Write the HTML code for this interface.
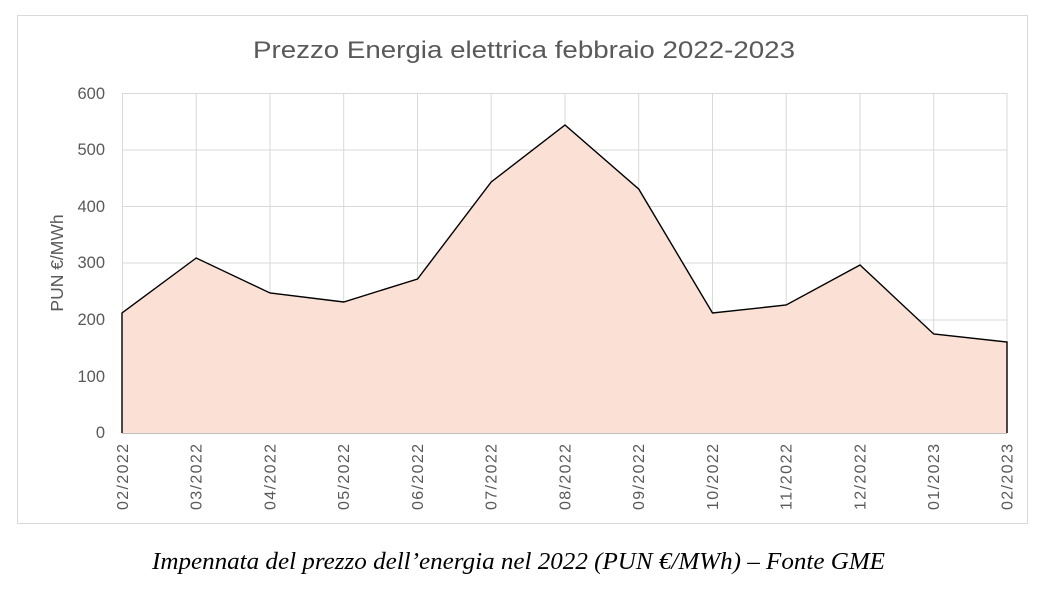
<!DOCTYPE html>
<html><head><meta charset="utf-8"><style>body{margin:0;background:#fff}</style></head>
<body>
<svg width="1038" height="588" xmlns="http://www.w3.org/2000/svg" font-family="Liberation Sans, sans-serif">
<rect x="0" y="0" width="1038" height="588" fill="#fff"/>
<rect x="17.5" y="15.5" width="1010" height="508" fill="#fff" stroke="#d9d9d9"/>
<text x="253" y="58" font-size="24" fill="#595959" textLength="542" lengthAdjust="spacingAndGlyphs">Prezzo Energia elettrica febbraio 2022-2023</text>
<g stroke="#d9d9d9" stroke-width="1">
<line x1="122" y1="93.5" x2="1007" y2="93.5"/><line x1="122" y1="150" x2="1007" y2="150"/>
<line x1="122" y1="206.5" x2="1007" y2="206.5"/><line x1="122" y1="263" x2="1007" y2="263"/>
<line x1="122" y1="320" x2="1007" y2="320"/><line x1="122" y1="376.5" x2="1007" y2="376.5"/>
<line x1="122.5" y1="93" x2="122.5" y2="433"/><line x1="196.2" y1="93" x2="196.2" y2="433"/>
<line x1="270" y1="93" x2="270" y2="433"/><line x1="343.7" y1="93" x2="343.7" y2="433"/>
<line x1="417.5" y1="93" x2="417.5" y2="433"/><line x1="491.2" y1="93" x2="491.2" y2="433"/>
<line x1="565" y1="93" x2="565" y2="433"/><line x1="638.7" y1="93" x2="638.7" y2="433"/>
<line x1="712.5" y1="93" x2="712.5" y2="433"/><line x1="786.2" y1="93" x2="786.2" y2="433"/>
<line x1="860" y1="93" x2="860" y2="433"/><line x1="933.7" y1="93" x2="933.7" y2="433"/>
<line x1="1007" y1="93" x2="1007" y2="433"/>
</g>
<polygon points="122,433 122,313 196.2,258 270,293 343.7,302 417.5,279 491.2,182 565,125 638.7,189 712.5,313 786.2,305 860,265 933.7,334 1007,342 1007,433" fill="#fae0d5" stroke="none"/>
<polyline points="122,433 122,313 196.2,258 270,293 343.7,302 417.5,279 491.2,182 565,125 638.7,189 712.5,313 786.2,305 860,265 933.7,334 1007,342 1007,433" fill="none" stroke="#000" stroke-width="1.4"/>
<line x1="122" y1="433.5" x2="1007" y2="433.5" stroke="#bfbfbf"/>
<g font-size="16.5" fill="#595959" text-anchor="end">
<text x="105" y="99">600</text><text x="105" y="155">500</text><text x="105" y="212">400</text>
<text x="105" y="268">300</text><text x="105" y="325">200</text><text x="105" y="382">100</text><text x="105" y="438">0</text>
</g>
<text transform="translate(63,263) rotate(-90)" font-size="17.5" fill="#595959" text-anchor="middle">PUN €/MWh</text>
<g font-size="16" fill="#595959" text-anchor="end">
<text transform="translate(128,444) rotate(-90)" textLength="66">02/2022</text>
<text transform="translate(201.7,444) rotate(-90)" textLength="66">03/2022</text>
<text transform="translate(275.5,444) rotate(-90)" textLength="66">04/2022</text>
<text transform="translate(349.2,444) rotate(-90)" textLength="66">05/2022</text>
<text transform="translate(423,444) rotate(-90)" textLength="66">06/2022</text>
<text transform="translate(496.7,444) rotate(-90)" textLength="66">07/2022</text>
<text transform="translate(570.5,444) rotate(-90)" textLength="66">08/2022</text>
<text transform="translate(644.2,444) rotate(-90)" textLength="66">09/2022</text>
<text transform="translate(718,444) rotate(-90)" textLength="66">10/2022</text>
<text transform="translate(791.7,444) rotate(-90)" textLength="66">11/2022</text>
<text transform="translate(865.5,444) rotate(-90)" textLength="66">12/2022</text>
<text transform="translate(939.2,444) rotate(-90)" textLength="66">01/2023</text>
<text transform="translate(1012.5,444) rotate(-90)" textLength="66">02/2023</text>
</g>
<text x="152" y="569" font-family="Liberation Serif, serif" font-style="italic" font-size="24" fill="#000" textLength="733" lengthAdjust="spacingAndGlyphs">Impennata del prezzo dell’energia nel 2022 (PUN €/MWh) – Fonte GME</text>
</svg>
</body></html>
